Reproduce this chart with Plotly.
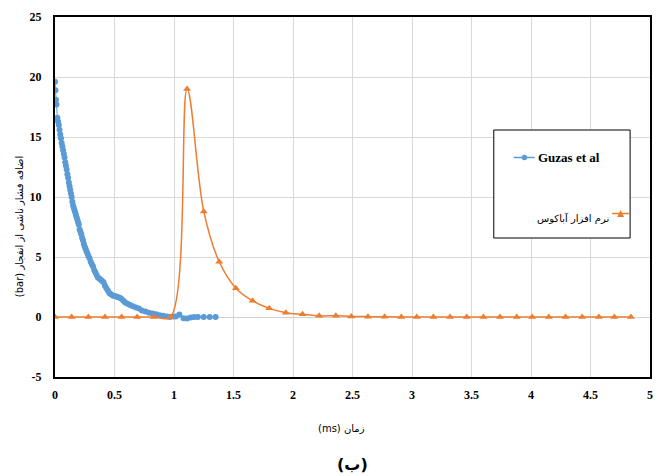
import plotly.graph_objects as go

# ---- data ----
guzas_t = [0.000, 0.004, 0.008, 0.012, 0.020, 0.026, 0.032, 0.038, 0.044, 0.050,
           0.056, 0.062, 0.068, 0.074, 0.080, 0.086, 0.092, 0.098, 0.104, 0.110,
           0.116, 0.122, 0.128, 0.134, 0.140, 0.146, 0.152, 0.158, 0.164, 0.170,
           0.176, 0.182, 0.188, 0.194, 0.200, 0.207, 0.214, 0.221, 0.228, 0.235,
           0.242, 0.249, 0.256, 0.264, 0.272, 0.280, 0.290, 0.300, 0.310, 0.320,
           0.330, 0.340, 0.350, 0.360, 0.372, 0.384, 0.396, 0.408, 0.420, 0.432,
           0.444, 0.456, 0.470, 0.485, 0.500, 0.515, 0.530, 0.545, 0.560, 0.575,
           0.590, 0.610, 0.630, 0.655, 0.680, 0.705, 0.730, 0.760, 0.790, 0.820,
           0.850, 0.880, 0.910, 0.940, 0.965, 0.990, 1.015, 1.045, 1.080, 1.110,
           1.140, 1.170, 1.200, 1.250, 1.300, 1.350]
guzas_p = [19.6, 18.9, 18.1, 17.7, 16.6, 16.3, 16.0, 15.6, 15.2, 14.9,
           14.5, 14.2, 13.9, 13.6, 13.3, 12.9, 12.6, 12.3, 11.9, 11.6,
           11.2, 10.9, 10.6, 10.3, 10.0, 9.6, 9.3, 9.1, 8.9, 8.7,
           8.5, 8.3, 8.1, 7.9, 7.7, 7.3, 7.1, 6.9, 6.6, 6.4,
           6.1, 5.9, 5.7, 5.5, 5.3, 5.1, 4.9, 4.6, 4.4, 4.2,
           3.9, 3.7, 3.5, 3.3, 3.2, 3.1, 3.0, 2.9, 2.6, 2.4,
           2.2, 2.0, 1.9, 1.8, 1.75, 1.7, 1.65, 1.6, 1.5, 1.35,
           1.2, 1.1, 1.0, 0.9, 0.8, 0.7, 0.55, 0.45, 0.35, 0.3,
           0.22, 0.15, 0.1, 0.05, 0.0, 0.05, 0.05, 0.2, -0.1, -0.12,
           -0.05, 0.0, 0.0, 0.0, 0.0, 0.0]

abaqus_t = [0.00, 0.14, 0.28, 0.42, 0.56, 0.69, 0.83, 0.97, 1.11, 1.25,
            1.38, 1.52, 1.66, 1.80, 1.94, 2.08, 2.22, 2.36, 2.49, 2.63,
            2.77, 2.91, 3.04, 3.18, 3.32, 3.46, 3.60, 3.74, 3.88, 4.01,
            4.15, 4.29, 4.43, 4.57, 4.70, 4.84]
abaqus_p = [0, 0, 0, 0, 0, 0, 0, 0, 19.0, 8.8,
            4.6, 2.4, 1.35, 0.72, 0.36, 0.22, 0.1, 0.1, 0.05, 0.03,
            0.02, 0.01, 0, 0, 0, 0, 0, 0, 0, 0,
            0, 0, 0, 0, 0, 0]

legend_names = ["Guzas et al", "نرم افزار آباکوس"]
x_ticks = [0, 0.5, 1, 1.5, 2, 2.5, 3, 3.5, 4, 4.5, 5]
y_ticks = [-5, 0, 5, 10, 15, 20, 25]

BLUE = "#5B9BD5"
ORANGE = "#ED7D31"
SERIF = "Liberation Serif, DejaVu Serif, serif"

W, H = 656, 476
L, R, T, B = 55, 3, 17, 99
PW, PH = W - L - R, H - T - B


def px(x):
    return (x - L) / PW


def py(y):
    return (H - B - y) / PH


fig = go.Figure()
fig.add_trace(go.Scatter(
    x=guzas_t, y=guzas_p, mode="lines+markers", name=legend_names[0],
    line=dict(color=BLUE, width=1),
    marker=dict(symbol="circle", size=6, color=BLUE),
    showlegend=False))
fig.add_trace(go.Scatter(
    x=abaqus_t, y=abaqus_p, mode="lines+markers", name=legend_names[1],
    line=dict(color=ORANGE, width=1.5, shape="spline", smoothing=1),
    marker=dict(symbol="triangle-up", size=7, color=ORANGE),
    showlegend=False))

tickfont = dict(family=SERIF, size=12, color="#000", weight="bold")
fig.update_xaxes(range=[0, 5], tickvals=x_ticks, ticktext=[str(v) for v in x_ticks],
                 showgrid=True, gridcolor="#D9D9D9", gridwidth=1,
                 showline=True, linecolor="#000", linewidth=2, mirror=True,
                 zeroline=False, ticks="", tickfont=tickfont, ticklabelstandoff=6)
fig.update_yaxes(range=[-5, 25], tickvals=y_ticks, ticktext=[str(v) for v in y_ticks],
                 showgrid=True, gridcolor="#D9D9D9", gridwidth=1,
                 showline=True, linecolor="#000", linewidth=2, mirror=True,
                 zeroline=True, zerolinecolor="#D0D0D0", zerolinewidth=1.2,
                 ticks="", tickfont=tickfont, ticklabelstandoff=9)

shapes = []
annos = []
# legend box
shapes.append(dict(type="rect", xref="paper", yref="paper",
                   x0=px(496), x1=px(633), y0=py(238), y1=py(130),
                   line=dict(color="#000", width=1), fillcolor="white", layer="above"))
# entry 1
y1 = 157.5
shapes.append(dict(type="line", xref="paper", yref="paper",
                   x0=px(516), x1=px(537), y0=py(y1), y1=py(y1),
                   line=dict(color=BLUE, width=1.5), layer="above"))
shapes.append(dict(type="circle", xref="paper", yref="paper",
                   x0=px(524), x1=px(529.5), y0=py(y1 + 2.75), y1=py(y1 - 2.75),
                   line=dict(color=BLUE, width=0), fillcolor=BLUE, layer="above"))
annos.append(dict(text=legend_names[0], xref="paper", yref="paper",
                  x=px(538), y=py(y1), xanchor="left", yanchor="middle", showarrow=False,
                  font=dict(family=SERIF, size=13, color="#000", weight="bold")))
# entry 2
y2 = 213.5
shapes.append(dict(type="line", xref="paper", yref="paper",
                   x0=px(615), x1=px(632), y0=py(y2), y1=py(y2),
                   line=dict(color=ORANGE, width=1.5), layer="above"))
tx, ty = px(623.5), py(y2)
dx, dy = 3.5 / PW, 3.5 / PH
shapes.append(dict(type="path", xref="paper", yref="paper",
                   path=f"M {tx - dx} {ty - dy} L {tx + dx} {ty - dy} L {tx} {ty + dy} Z",
                   line=dict(color=ORANGE, width=0), fillcolor=ORANGE, layer="above"))
annos.append(dict(text=legend_names[1], xref="paper", yref="paper",
                  x=px(614), y=py(218), xanchor="right", yanchor="middle", showarrow=False,
                  font=dict(family="DejaVu Sans", size=10, color="#000")))

# axis titles
annos.append(dict(text="(bar) اضافه فشار ناشی از انفجار", xref="paper", yref="paper",
                  x=px(20), y=py(227), xanchor="center", yanchor="middle", textangle=-90,
                  showarrow=False, font=dict(family="DejaVu Sans", size=10, color="#000")))
annos.append(dict(text="(ms) زمان", xref="paper", yref="paper",
                  x=px(343), y=py(428), xanchor="center", yanchor="middle",
                  showarrow=False, font=dict(family="DejaVu Sans", size=10, color="#000")))
annos.append(dict(text="<b>(ب)</b>", xref="paper", yref="paper",
                  x=px(354), y=py(464), xanchor="center", yanchor="middle",
                  showarrow=False, font=dict(family="DejaVu Sans", size=16, color="#000")))

fig.update_layout(width=W, height=H, margin=dict(l=L, r=R, t=T, b=B),
                  paper_bgcolor="white", plot_bgcolor="white",
                  shapes=shapes, annotations=annos, showlegend=False)

fig.write_html("out.html")
